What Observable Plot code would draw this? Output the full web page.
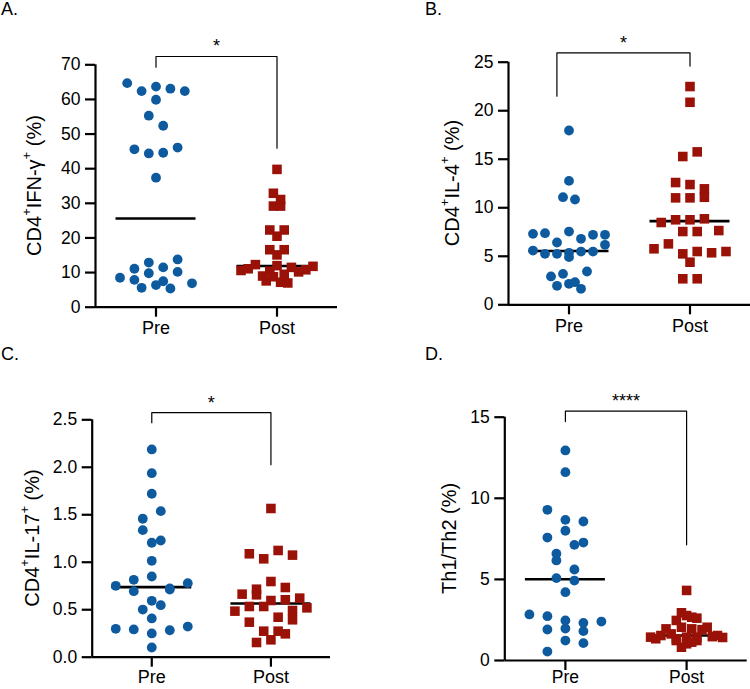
<!DOCTYPE html>
<html><head><meta charset="utf-8">
<script src="https://cdn.jsdelivr.net/npm/d3@7"></script>
<script src="https://cdn.jsdelivr.net/npm/@observablehq/plot@0.6"></script>
<style>
html,body{margin:0;padding:0;background:#fff;}
#root{position:relative;width:750px;height:689px;overflow:hidden;font-family:"Liberation Sans",Arial,sans-serif;}
.panel{position:absolute;}
.plabel{position:absolute;font-size:18px;color:#000;line-height:1;}
</style></head><body><div id="root"></div>
<script>
// ---------------- data ----------------
const groups = ["Pre", "Post"];
const panelLabels = ["A.", "B.", "C.", "D."];

const aPre  = [64.7, 62.4, 63.7, 63.1, 62.4, 59.9, 55.3, 52.4, 45.6, 44.4, 44.6, 46.1, 37.4, 8.5, 5.6, 11.1, 7.9, 12.9, 9.8, 6.4, 11.5, 7.5, 13.8, 5.4, 10.2, 6.9];
const aPost = [10.6, 7.6, 32.9, 11.1, 12.3, 9.0, 29.2, 22.3, 16.6, 10.4, 39.8, 20.5, 15.1, 29.2, 8.8, 7.2, 31.1, 22.3, 16.6, 12.0, 9.5, 7.0, 11.5, 10.2, 10.8, 11.8];
const bPre  = [5.59, 7.31, 1.96, 5.25, 7.38, 2.92, 5.25, 6.42, 7.55, 17.96, 12.77, 11.09, 2.16, 3.19, 5.36, 6.8, 10.85, 2.33, 3.43, 5.49, 1.65, 5.49, 7.21, 4.91, 6.18, 7.21];
const bPost = [8.48, 5.77, 11.02, 8.76, 7.55, 6.28, 5.25, 2.68, 22.49, 20.87, 15.28, 12.6, 11.02, 8.76, 7.55, 5.49, 4.39, 2.68, 15.76, 12.39, 11.08, 8.86, 7.65, 5.36, 11.95, 5.49];
const cPre  = [0.752, 0.299, 0.815, 0.695, 0.502, 0.292, 1.205, 2.188, 1.938, 1.721, 1.458, 1.338, 1.015, 0.85, 0.724, 0.548, 0.25, 0.102, 1.229, 1.538, 0.78, 0.594, 0.408, 0.284, 0.713, 0.323];
const cPost = [0.664, 0.485, 1.089, 0.534, 0.369, 0.274, 0.155, 1.036, 0.657, 0.534, 0.421, 0.274, 1.566, 1.124, 0.716, 0.597, 0.183, 1.075, 0.797, 0.605, 0.492, 0.394, 0.246, 0.734, 0.622, 0.52];
const dPre  = [2.84, 1.91, 7.58, 6.17, 5.08, 2.73, 1.97, 0.55, 12.95, 11.61, 9.29, 8.67, 8.0, 7.27, 6.58, 5.61, 4.21, 2.47, 1.81, 1.23, 8.57, 7.13, 4.93, 2.32, 1.07, 2.40];
const dPost = [1.44, 1.34, 1.54, 1.95, 1.23, 2.47, 1.64, 2.94, 1.34, 2.05, 4.32, 1.44, 2.77, 0.82, 1.95, 1.44, 1.03, 2.67, 1.13, 1.90, 1.23, 2.05, 2.61, 1.47, 1.54, 1.42];

const aTicks = [0, 10, 20, 30, 40, 50, 60, 70];
const bTicks = [0, 5, 10, 15, 20, 25];
const cTicks = [0, 0.5, 1.0, 1.5, 2.0, 2.5];
const dTicks = [0, 5, 10, 15];

// y-axis titles: [text, superscript?]
const aTitle = [["CD4", false], ["+", true], ["IFN-\u03B3", false], ["+", true], [" (%)", false]];
const bTitle = [["CD4", false], ["+", true], ["IL-4", false], ["+", true], [" (%)", false]];
const cTitle = [["CD4", false], ["+", true], ["IL-17", false], ["+", true], [" (%)", false]];
const dTitle = [["Th1/Th2 (%)", false]];

// significance: bracket [top, Pre leg end, Post leg end] in data units, bracket ends on x, label
const aBracket = [72.4, 69.3, 45.9];
const bBracket = [25.96, 21.5, 24.6];
const cBracket = [2.575, 2.469, 2.027];
const dBracket = [15.37, 14.73, 7.13];
const aBracketX = [1, 2], bBracketX = [0.9, 2], cBracketX = [1, 2], dBracketX = [1, 2];
const aStars = "*", bStars = "*", cStars = "*", dStars = "****";

// ---------------- drawing ----------------
const BLUE = "#0d5a9e", RED = "#9a1207";
const FONT = '"Liberation Sans", Arial, sans-serif';
const root = document.getElementById("root");
const svgNS = "http://www.w3.org/2000/svg";

// GraphPad-like scatter layout: points binned into rows, spread around group centre
function layout(values, gi, pxPerY, pxPerX) {
  const rowH = 12;
  const idx = values.map((v, i) => i).sort((a, b) => values[b] - values[a] || a - b);
  const rows = []; let cur = null;
  for (const i of idx) {
    if (cur && (values[cur.start] - values[i]) * pxPerY <= rowH) cur.items.push(i);
    else { cur = {start: i, items: [i]}; rows.push(cur); }
  }
  const maxN = d3.max(rows, r => r.items.length);
  const spacing = maxN > 1 ? Math.min(18, 72 / (maxN - 1)) : 0;
  const out = values.map(v => ({group: groups[gi], value: v, x: gi + 1}));
  for (const r of rows) {
    const items = r.items.slice().sort((a, b) => a - b);
    const n = items.length;
    items.forEach((i, k) => { out[i].x = gi + 1 + (k - (n - 1) / 2) * spacing / pxPerX; });
  }
  return out;
}

function makePanel(cfg) {
  const {left, top, width, height, ml, mr, mt, mb, ticks, fmt, pre, post, title, titleGap, bracket, bracketX, stars, label} = cfg;
  const yMax = ticks[ticks.length - 1];
  const pxPerY = (height - mt - mb) / yMax;
  const pxPerX = (width - ml - mr) / 2;
  const preData = layout(pre, 0, pxPerY, pxPerX);
  const postData = layout(post, 1, pxPerY, pxPerX);
  const half = 40 / pxPerX;
  const medians = [
    {g: 1, m: d3.median(pre)},
    {g: 2, m: d3.median(post)}
  ];
  const brk = [
    {x: bracketX[0], y: bracket[1]}, {x: bracketX[0], y: bracket[0]},
    {x: bracketX[1], y: bracket[0]}, {x: bracketX[1], y: bracket[2]}
  ];
  const titleMark = () => {
    const t = document.createElementNS(svgNS, "text");
    const cx = ml - titleGap, cy = (mt + height - mb) / 2;
    t.setAttribute("transform", `translate(${cx},${cy}) rotate(-90)`);
    t.setAttribute("text-anchor", "middle");
    t.setAttribute("dominant-baseline", "central");
    t.setAttribute("font-size", "20");
    t.setAttribute("fill", "#000");
    let shifted = false;
    for (const [s, sup] of title) {
      const ts = document.createElementNS(svgNS, "tspan");
      ts.textContent = s;
      if (sup) { ts.setAttribute("font-size", "13"); if (!shifted) { ts.setAttribute("dy", "-8"); shifted = true; } }
      else if (shifted) { ts.setAttribute("dy", "8"); shifted = false; }
      t.appendChild(ts);
    }
    const g = document.createElementNS(svgNS, "g");
    g.appendChild(t);
    return g;
  };
  const plot = Plot.plot({
    width, height, marginLeft: ml, marginRight: mr, marginTop: mt, marginBottom: mb,
    x: {domain: [0.5, 2.5], axis: null},
    y: {domain: [0, yMax], axis: null},
    style: {fontFamily: FONT, color: "#000", background: "transparent", overflow: "visible"},
    marks: [
      Plot.ruleY(medians, {x1: d => d.g - half, x2: d => d.g + half, y: "m", stroke: "#000", strokeWidth: 2.6}),
      Plot.dot(preData, {x: "x", y: "value", r: 4.9, fill: BLUE, symbol: "circle"}),
      Plot.dot(postData, {x: "x", y: "value", r: 5.4, fill: RED, symbol: "square"}),
      Plot.ruleX([0.5], {stroke: "#000", strokeWidth: 2.2}),
      Plot.ruleY([0], {stroke: "#000", strokeWidth: 2.2}),
      Plot.axisY({ticks, tickFormat: fmt, tickSize: 10, tickPadding: 5, fontSize: 17.5, strokeWidth: 2.2, label: null, color: "#000"}),
      Plot.axisX({ticks: [1, 2], tickFormat: d => groups[d - 1], tickSize: 10, tickPadding: cfg.xPad, fontSize: cfg.xFont, strokeWidth: 2.2, label: null, color: "#000"}),
      Plot.line(brk, {x: "x", y: "y", stroke: "#000", strokeWidth: 1.2, clip: false}),
      Plot.text([stars], {x: (bracketX[0] + bracketX[1]) / 2, y: bracket[0], text: d => d, dy: -4, fontSize: 18, lineAnchor: "bottom", fill: "#000"}),
      titleMark
    ]
  });
  const wrap = document.createElement("div");
  wrap.className = "panel";
  wrap.style.left = left + "px"; wrap.style.top = top + "px";
  wrap.appendChild(plot);
  root.appendChild(wrap);
  const lab = document.createElement("div");
  lab.className = "plabel";
  lab.textContent = label;
  lab.style.left = (left + cfg.labelDx) + "px"; lab.style.top = (top + 0) + "px";
  root.appendChild(lab);
}

const fmtInt = d => String(d);
const fmt1 = d => d.toFixed(1);

makePanel({left: 0, top: 0, width: 375, height: 345, ml: 95, mr: 38, mt: 64.3, mb: 38.3,
  ticks: aTicks, fmt: fmtInt, pre: aPre, post: aPost, title: aTitle, titleGap: 61, xPad: 4, xFont: 18,
  bracket: aBracket, bracketX: aBracketX, stars: aStars, label: panelLabels[0], labelDx: 1});
makePanel({left: 375, top: 0, width: 375, height: 345, ml: 133, mr: 0, mt: 61.7, mb: 40.7,
  ticks: bTicks, fmt: fmtInt, pre: bPre, post: bPost, title: bTitle, titleGap: 56, xPad: 4, xFont: 18,
  bracket: bBracket, bracketX: bBracketX, stars: bStars, label: panelLabels[1], labelDx: 50});
makePanel({left: 0, top: 345, width: 375, height: 344, ml: 91.7, mr: 45, mt: 74.3, mb: 32.3,
  ticks: cTicks, fmt: fmt1, pre: cPre, post: cPost, title: cTitle, titleGap: 60, xPad: 3, xFont: 18,
  bracket: cBracket, bracketX: cBracketX, stars: cStars, label: panelLabels[2], labelDx: 1});
makePanel({left: 375, top: 345, width: 375, height: 344, ml: 129.3, mr: 3.3, mt: 71.7, mb: 29,
  ticks: dTicks, fmt: fmtInt, pre: dPre, post: dPost, title: dTitle, titleGap: 55, xPad: 0, xFont: 17.5,
  bracket: dBracket, bracketX: dBracketX, stars: dStars, label: panelLabels[3], labelDx: 50});
</script>
</body></html>
